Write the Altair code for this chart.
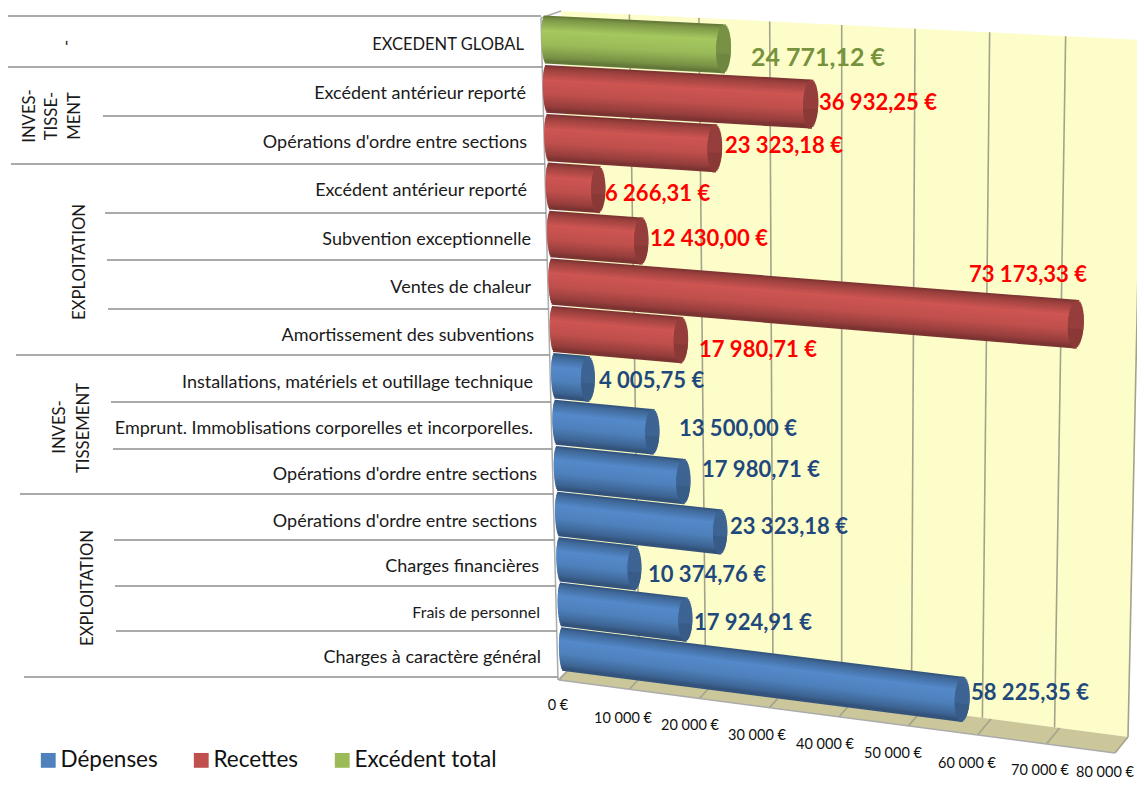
import numpy as np
import pandas as pd
import altair as alt

# ---------- data (top row first) ----------
categories = ["EXCEDENT GLOBAL", "Excédent antérieur reporté", "Opérations d'ordre entre sections",
              "Excédent antérieur reporté", "Subvention exceptionnelle", "Ventes de chaleur ",
              "Amortissement des subventions", "Installations, matériels et outillage technique",
              "Emprunt. Immoblisations corporelles et incorporelles.", "Opérations d'ordre entre sections",
              "Opérations d'ordre entre sections", "Charges financières", "Frais de personnel",
              "Charges à caractère général"]
values = [24771.12, 36932.25, 23323.18, 6266.31, 12430.00, 73173.33, 17980.71,
          4005.75, 13500.00, 17980.71, 23323.18, 10374.76, 17924.91, 58225.35]
value_labels = ["24 771,12 €", "36 932,25 €", "23 323,18 €", "6 266,31 €", "12 430,00 €", "73 173,33 €",
                "17 980,71 €", "4 005,75 €", "13 500,00 €", "17 980,71 €", "23 323,18 €", "10 374,76 €",
                "17 924,91 €", "58 225,35 €"]
series = ["Excédent total"] + ["Recettes"] * 6 + ["Dépenses"] * 7
series_names = ["Dépenses", "Recettes", "Excédent total"]
series_colors = ["#4F81BD", "#C0504D", "#9BBB59"]
tick_values = [0, 10000, 20000, 30000, 40000, 50000, 60000, 70000, 80000]
tick_labels = ["0 €", "10 000 €", "20 000 €", "30 000 €", "40 000 €", "50 000 €", "60 000 €", "70 000 €", "80 000 €"]
groups = [("-", 67, 43), ("INVES-", 30, 116), ("TISSE-", 52, 116), ("MENT", 75, 116), ("EXPLOITATION", 80, 262),
          ("INVES-", 60, 427), ("TISSEMENT", 84, 428), ("EXPLOITATION", 88, 588)]

# ---------- layout of annotations ----------
row_label_right = [524, 526, 527, 527, 531, 531, 534, 533, 533, 537, 537, 539, 540, 541]
row_label_y = [45, 94, 143, 191, 240, 288, 336, 383, 429, 475, 522, 567, 613, 658]
row_label_size = [16.5, 18, 18, 18, 18, 18, 18, 18, 18, 18, 18, 18, 16, 18]
value_label_left = [751, 819, 725, 605, 650, 969, 699, 599, 679, 702, 730, 648, 694, 971]
value_label_y = [58, 103, 146, 194, 239, 275, 350, 381, 429, 470, 527, 575, 623, 693]
tick_label_x = [558, 623, 690, 757, 825, 893, 967, 1040, 1105]
tick_label_y = [706, 719, 726, 736, 745, 754, 764, 771, 773]

# ---------- 3D look: projective maps ----------
def homography(src, dst):
    A, b = [], []
    for (u, w), (x, y) in zip(src, dst):
        A.append([u, w, 1, 0, 0, 0, -u * x, -w * x]); b.append(x)
        A.append([0, 0, 0, u, w, 1, -u * y, -w * y]); b.append(y)
    h = np.linalg.solve(np.array(A, float), np.array(b, float))
    M = np.append(h, 1).reshape(3, 3)
    def f(u, w):
        p = M @ np.array([u, w, 1.0])
        return p[0] / p[2], p[1] / p[2]
    return f

unit = [(0, 0), (1, 0), (0, 1), (1, 1)]
VMAX = 80000.0
bar_plane = homography(unit, [(569, 650), (1119, 719), (552, 40), (1133, 70)])   # u=value, w=row/13
wall = homography(unit, [(561, 11), (1143, 40), (574, 664), (1128, 737)])        # u=value, w=down
floor = homography(unit, [(559, 680), (1115, 753), (574, 664), (1128, 737)])     # u=value, w=back

def poly_area(points, name):
    """convex polygon -> x / y / y2 rows for an area mark"""
    pts = sorted(points)
    def edge_ys(x):
        ys = []
        n = len(points)
        for i in range(n):
            (x0, y0), (x1, y1) = points[i], points[(i + 1) % n]
            if min(x0, x1) <= x <= max(x0, x1) and x0 != x1:
                ys.append(y0 + (y1 - y0) * (x - x0) / (x1 - x0))
        return min(ys), max(ys)
    return [{"name": name, "x": x, "y": edge_ys(x)[0], "y2": edge_ys(x)[1]} for x, _ in pts]

wall_poly = [wall(0, 0), wall(1, 0), wall(1, 1), wall(0, 1)]
floor_poly = [floor(0, 1), floor(1, 1), floor(1, 0), floor(0, 0)]
areas = pd.DataFrame(poly_area(wall_poly, "wall") + poly_area(floor_poly, "floor"))

lines = []
for i, v in enumerate(tick_values[1:], 1):
    u = v / VMAX
    for w in (0, 1):
        x, y = wall(u, w); lines.append({"id": f"g{i}", "k": w, "x": x, "y": y})
for i, v in enumerate(tick_values):
    u = v / VMAX
    for w in (0, 1):
        x, y = floor(u, w); lines.append({"id": f"f{i}", "k": w, "x": x, "y": y})
grid_df = pd.DataFrame(lines)

edges = pd.DataFrame([
    {"id": "a", "k": 0, "x": 541, "y": 18}, {"id": "a", "k": 1, "x": 558, "y": 680},
    {"id": "b", "k": 0, "x": 541, "y": 18}, {"id": "b", "k": 1, "x": 561, "y": 11},
    {"id": "c", "k": 0, "x": 558, "y": 680}, {"id": "c", "k": 1, "x": 574, "y": 664},
    {"id": "d", "k": 0, "x": floor(0, 0)[0], "y": floor(0, 0)[1]}, {"id": "d", "k": 1, "x": floor(1, 0)[0], "y": floor(1, 0)[1]},
])

# ---------- cylinders ----------
def tint(hexcol, f):
    c = [int(hexcol[i:i + 2], 16) for i in (1, 3, 5)]
    return "#%02x%02x%02x" % tuple(int(min(255, max(0, x * f))) for x in c)

base = dict(zip(series_names, series_colors))
N = 26
RAD = 0.47
START_V = -1000  # the cylinder foot sits slightly left of the zero plane
strips = []
for i, (cat, v, s) in enumerate(zip(categories, values, series)):
    r = 13 - i
    for j in range(N):
        t = -1 + (j + 0.5) * 2 / N
        sh = float(np.interp(t, [-1, -0.85, -0.35, 0.25, 0.8, 1], [0.62, 0.80, 1.07, 1.0, 0.78, 0.62]))
        half = np.sqrt(max(0, 1 - t * t))
        a = bar_plane((START_V - 550 * half) / VMAX, (r + RAD * -t) / 13)
        b = bar_plane(v / VMAX, (r + RAD * -t) / 13)
        strips.append({"id": f"{i}-b{j}", "k": 0, "x": a[0], "y": a[1], "c": tint(base[s], sh)})
        strips.append({"id": f"{i}-b{j}", "k": 1, "x": b[0], "y": b[1], "c": tint(base[s], sh)})
    for j in range(N):
        t = -1 + (j + 0.5) * 2 / N
        half = np.sqrt(max(0, 1 - t * t))
        skew = -0.12 * t
        a = bar_plane((v - 1050 * half + 1000 * skew) / VMAX, (r + RAD * -t) / 13)
        b = bar_plane((v + 1050 * half + 1000 * skew) / VMAX, (r + RAD * -t) / 13)
        col = tint(base[s], 0.72 + 0.06 * (t < 0.2))
        strips.append({"id": f"{i}-c{j}", "k": 0, "x": a[0], "y": a[1], "c": col})
        strips.append({"id": f"{i}-c{j}", "k": 1, "x": b[0], "y": b[1], "c": col})
strips_df = pd.DataFrame(strips)

# ---------- table & labels ----------
table_y = [16, 67, 116, 164, 213, 260, 309, 355, 402, 449, 494, 540, 586, 631, 677]
table_x0 = [8, 8, 103, 11, 105, 107, 108, 16, 111, 113, 20, 114, 115, 116, 24]
table_df = pd.DataFrame({"x": table_x0, "x2": [541 + (y - 18) * 17 / 662 for y in table_y], "y": table_y})

row_df = pd.DataFrame({"t": categories, "x": row_label_right, "y": row_label_y, "fs": row_label_size})
colors_lab = {"Excédent total": "#76923C", "Recettes": "#FF0000", "Dépenses": "#1F497D"}
val_df = pd.DataFrame({
    "t": value_labels, "x": value_label_left, "y": value_label_y,
    "c": [colors_lab[s] for s in series],
    "fs": [25] + [22] * 13,
})
tick_df = pd.DataFrame({"t": tick_labels, "x": tick_label_x, "y": tick_label_y})
group_df = pd.DataFrame(groups, columns=["t", "x", "y"])

# ---------- chart ----------
X = alt.X("x:Q", scale=alt.Scale(domain=[8, 1137], nice=False, zero=False), axis=None)
Y = alt.Y("y:Q", scale=alt.Scale(domain=[779, 8], nice=False, zero=False), axis=None)

legend_df = pd.DataFrame({"s": series_names, "x": [570, 570, 570], "y": [650, 650, 650]})
legend_layer = alt.Chart(legend_df).mark_square(size=1, opacity=1).encode(
    X, Y,
    color=alt.Color("s:N", scale=alt.Scale(domain=series_names, range=series_colors),
                    legend=alt.Legend(title=None, orient="none", legendX=29, legendY=741, direction="horizontal",
                                      symbolType="square", symbolSize=220, symbolStrokeWidth=0,
                                      labelFont="Lato", labelFontSize=22.5, labelColor="#111111",
                                      columnPadding=32, symbolOffset=0, labelOffset=1, labelLimit=200)),
)

area_layer = alt.Chart(areas).mark_area(interpolate="linear", opacity=1).encode(
    X, Y, y2="y2:Q",
    fill=alt.Fill("name:N", scale=alt.Scale(domain=["wall", "floor"], range=["#FDFDC9", "#CBC79B"]), legend=None),
    detail="name:N",
)
grid_layer = alt.Chart(grid_df).mark_line(color="#A3A38C", strokeWidth=1.6).encode(X, Y, detail="id:N", order="k:Q")
edge_layer = alt.Chart(edges).mark_line(color="#ABABAB", strokeWidth=1.5).encode(X, Y, detail="id:N", order="k:Q")
table_layer = alt.Chart(table_df).mark_rule(color="#8E8E8E", strokeWidth=1.4).encode(X, alt.X2("x2:Q"), Y)
strip_layer = alt.Chart(strips_df).mark_line(strokeWidth=3.4, strokeCap="butt").encode(
    X, Y, detail="id:N", order="k:Q", color=alt.Color("c:N", scale=None))
row_layer = alt.Chart(row_df).mark_text(align="right", baseline="middle", font="Lato", color="#1a1a1a").encode(
    X, Y, text="t:N", size=alt.Size("fs:Q", scale=None))
group_layer = alt.Chart(group_df).mark_text(align="center", baseline="middle", angle=270, font="Lato", fontSize=16.7, color="#1a1a1a").encode(X, Y, text="t:N")
val_layer = alt.Chart(val_df).mark_text(align="left", baseline="middle", font="Lato", fontWeight="bold").encode(
    X, Y, text="t:N", color=alt.Color("c:N", scale=None), size=alt.Size("fs:Q", scale=None))
tick_layer = alt.Chart(tick_df).mark_text(align="center", baseline="middle", font="Lato", fontSize=14.5, color="#111111").encode(X, Y, text="t:N")

chart = alt.layer(legend_layer, area_layer, grid_layer, edge_layer, table_layer, strip_layer,
                  row_layer, group_layer, val_layer, tick_layer).properties(
    width=1129, height=771, padding=0, background="white",
    autosize=alt.AutoSizeParams(type="none"),
).configure_view(stroke=None).resolve_scale(color="independent")

chart.save("out.html", embed_options={"renderer": "svg", "actions": False})
